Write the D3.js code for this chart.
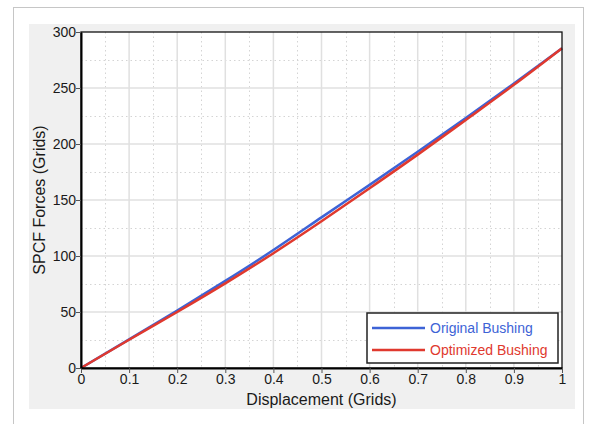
<!DOCTYPE html>
<html><head><meta charset="utf-8">
<script src="https://cdn.jsdelivr.net/npm/d3@7"></script>
<style>
html,body{margin:0;padding:0;background:#fff;}
svg{display:block;font-family:"Liberation Sans",Arial,sans-serif;}
</style></head>
<body>
<svg id="c" width="592" height="424"></svg>
<script>
const displacement = [0, 0.1, 0.2, 0.3, 0.4, 0.5, 0.6, 0.7, 0.8, 0.9, 1.0];
const originalBushing = [0, 25.5, 51.3, 77.8, 105.3, 134.5, 163.5, 193, 223.3, 254, 285.5];
const optimizedBushing = [0, 25.2, 50, 75.5, 102.5, 131, 160.5, 190.5, 221.5, 252.8, 285.5];
const xTicks = [0, 0.1, 0.2, 0.3, 0.4, 0.5, 0.6, 0.7, 0.8, 0.9, 1];
const xTickLabels = ["0", "0.1", "0.2", "0.3", "0.4", "0.5", "0.6", "0.7", "0.8", "0.9", "1"];
const yTicks = [0, 50, 100, 150, 200, 250, 300];
const seriesNames = ["Original Bushing", "Optimized Bushing"];
const seriesColors = ["#3d63d6", "#e0392e"];

const svg = d3.select("#c");
// outer frame
svg.append("rect").attr("x", 13.5).attr("y", 7.5).attr("width", 570).attr("height", 430)
  .attr("fill", "#fff").attr("stroke", "#c6c6c6");
svg.append("rect").attr("x", 29).attr("y", 24).attr("width", 546).attr("height", 385).attr("fill", "#f0f0f0");

const L = 81, R = 562, T = 32, B = 368;
const x = d3.scaleLinear().domain([0, 1]).range([L, R]);
const y = d3.scaleLinear().domain([0, 300]).range([B, T]);

svg.append("rect").attr("x", L).attr("y", T).attr("width", R - L).attr("height", B - T).attr("fill", "#fff");

// minor grid (dotted)
const g = svg.append("g");
const minorX = d3.range(0.05, 1, 0.1);
const minorY = d3.range(25, 300, 50);
g.selectAll(".mx").data(minorX).enter().append("line")
  .attr("x1", d => Math.round(x(d)) + 0.5).attr("x2", d => Math.round(x(d)) + 0.5)
  .attr("y1", T).attr("y2", B).attr("stroke", "#d4d4d4").attr("stroke-dasharray", "1.5,3");
g.selectAll(".my").data(minorY).enter().append("line")
  .attr("y1", d => Math.round(y(d)) + 0.5).attr("y2", d => Math.round(y(d)) + 0.5)
  .attr("x1", L).attr("x2", R).attr("stroke", "#d4d4d4").attr("stroke-dasharray", "1.5,3");
// major grid
g.selectAll(".gx").data(xTicks.slice(1, -1)).enter().append("line")
  .attr("x1", d => x(d)).attr("x2", d => x(d)).attr("y1", T).attr("y2", B)
  .attr("stroke", "#e0e0e0").attr("stroke-width", 1.5);
g.selectAll(".gy").data(yTicks.slice(1, -1)).enter().append("line")
  .attr("y1", d => y(d)).attr("y2", d => y(d)).attr("x1", L).attr("x2", R)
  .attr("stroke", "#e0e0e0").attr("stroke-width", 1.5);

// lines
const line = d3.line().x((d, i) => x(displacement[i])).y(d => y(d)).curve(d3.curveNatural);
[originalBushing, optimizedBushing].forEach((s, k) => {
  svg.append("path").datum(s).attr("d", line).attr("fill", "none")
    .attr("stroke", seriesColors[k]).attr("stroke-width", 2.5);
});

// plot border
svg.append("rect").attr("x", L).attr("y", T).attr("width", R - L).attr("height", B - T)
  .attr("fill", "none").attr("stroke", "#111").attr("stroke-width", 1.3);

// axes
const xAxis = d3.axisBottom(x).tickValues(xTicks).tickFormat((d, i) => xTickLabels[i]).tickSize(5).tickSizeOuter(0);
const yAxis = d3.axisLeft(y).tickValues(yTicks).tickSize(5).tickSizeOuter(0);
const ax = svg.append("g").attr("transform", `translate(0,${B})`).call(xAxis);
const ay = svg.append("g").attr("transform", `translate(${L},0)`).call(yAxis);
[ax, ay].forEach(a => {
  a.select(".domain").attr("stroke", "#000").attr("stroke-width", 2);
  a.selectAll(".tick line").attr("stroke", "#555");
  a.selectAll(".tick text").attr("fill", "#1a1a1a").attr("font-size", 14)
    .attr("font-family", '"Liberation Sans",Arial,sans-serif');
});
ax.selectAll(".tick text").attr("dy", "0.78em").attr("y", 5);
ay.selectAll(".tick text").attr("x", -5);

// axis titles
svg.append("text").attr("x", (L + R) / 2).attr("y", 405).attr("text-anchor", "middle")
  .attr("font-size", 16).attr("fill", "#1a1a1a").text("Displacement (Grids)");
svg.append("text").attr("transform", `translate(45,${(T + B) / 2}) rotate(-90)`)
  .attr("text-anchor", "middle").attr("font-size", 16).attr("fill", "#1a1a1a").text("SPCF Forces (Grids)");

// legend
const lg = svg.append("g");
lg.append("rect").attr("x", 367).attr("y", 313).attr("width", 191).attr("height", 50)
  .attr("fill", "#fff").attr("stroke", "#222").attr("stroke-width", 1.5);
seriesNames.forEach((n, k) => {
  const yy = 328 + k * 22;
  lg.append("line").attr("x1", 372).attr("x2", 425).attr("y1", yy).attr("y2", yy)
    .attr("stroke", seriesColors[k]).attr("stroke-width", 2.5);
  lg.append("text").attr("x", 430).attr("y", yy + 5).attr("font-size", 14)
    .attr("fill", seriesColors[k]).text(n);
});
</script>
</body></html>
